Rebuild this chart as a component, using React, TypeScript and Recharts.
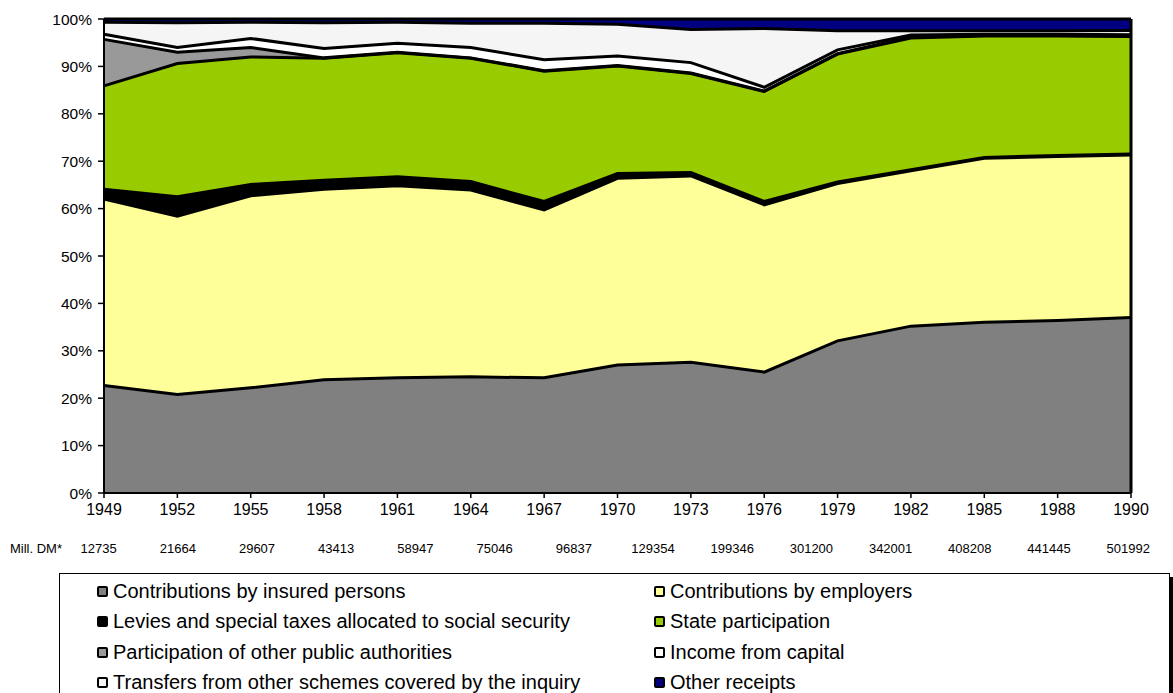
import { AreaChart, Area, XAxis, YAxis, ReferenceLine } from 'recharts';

// Receipts of social security by type, share of total, Germany 1949-1990
const years = ['1949', '1952', '1955', '1958', '1961', '1964', '1967', '1970', '1973', '1976', '1979', '1982', '1985', '1988', '1990'];
const millDM = ['12735', '21664', '29607', '43413', '58947', '75046', '96837', '129354', '199346', '301200', '342001', '408208', '441445', '501992'];

const insured = [22.7, 20.8, 22.2, 23.9, 24.3, 24.5, 24.3, 27.0, 27.6, 25.5, 32.1, 35.2, 36.0, 36.4, 37.0];
const employers = [39.3, 37.6, 40.5, 40.2, 40.5, 39.4, 35.4, 39.4, 39.3, 35.3, 33.2, 32.8, 34.6, 34.6, 34.3];
const levies = [2.1, 4.1, 2.4, 1.9, 1.9, 1.8, 1.8, 1.0, 0.7, 0.7, 0.3, 0.2, 0.2, 0.2, 0.2];
const state = [21.8, 28.1, 26.9, 25.7, 26.2, 26.0, 27.5, 22.7, 20.9, 23.2, 27.0, 27.8, 25.6, 25.2, 24.8];
const otherPublic = [9.8, 2.4, 2.0, 0.1, 0.1, 0.1, 0.1, 0.1, 0.1, 0.1, 0.1, 0.2, 0.1, 0.1, 0.1];
const capital = [1.1, 1.0, 1.9, 2.0, 1.9, 2.2, 2.3, 2.0, 2.2, 0.8, 0.8, 0.4, 0.3, 0.3, 0.3];
const transfers = [2.5, 5.2, 3.4, 5.4, 4.4, 5.1, 7.7, 6.7, 7.0, 12.4, 4.0, 0.9, 0.7, 0.7, 0.9];
const otherReceipts = [0.7, 0.8, 0.7, 0.8, 0.7, 0.9, 0.9, 1.1, 2.2, 2.0, 2.5, 2.5, 2.5, 2.5, 2.4];

const yTicks = [0, 0.1, 0.2, 0.3, 0.4, 0.5, 0.6, 0.7, 0.8, 0.9, 1];

const SERIES = [
  { key: 'insured', name: 'Contributions by insured persons', fill: '#808080', values: insured },
  { key: 'employers', name: 'Contributions by employers', fill: '#FFFF99', values: employers },
  { key: 'levies', name: 'Levies and special taxes allocated to social security', fill: '#000000', values: levies },
  { key: 'state', name: 'State participation', fill: '#99CC00', values: state },
  { key: 'otherPublic', name: 'Participation of other public authorities', fill: '#999999', values: otherPublic },
  { key: 'capital', name: 'Income from capital', fill: '#FFFFFF', values: capital },
  { key: 'transfers', name: 'Transfers from other schemes covered by the inquiry', fill: '#F5F5F5', values: transfers },
  { key: 'other', name: 'Other receipts', fill: '#000080', values: otherReceipts },
];

const data = years.map((year, i) => {
  const row: Record<string, string | number> = { year };
  SERIES.forEach((s) => {
    row[s.key] = s.values[i];
  });
  return row;
});

const FONT = '"Liberation Sans", Arial, sans-serif';
const W = 1173;
const OUTLINE = 3;

function MillRow() {
  return (
    <div style={{ position: 'absolute', left: 0, top: 541, width: W, height: 18, fontSize: 13, fontFamily: FONT }}>
      <span style={{ position: 'absolute', left: 10, top: 0 }}>Mill. DM*</span>
      {millDM.map((v, i) => (
        <span
          key={v}
          style={{ position: 'absolute', left: 98.6 + i * 79.2, top: 0, transform: 'translateX(-50%)' }}
        >
          {v}
        </span>
      ))}
    </div>
  );
}

function LegendBox() {
  return (
    <div
      style={{
        position: 'absolute',
        left: 59,
        top: 573,
        width: 1109,
        height: 140,
        border: '1px solid #000',
        boxShadow: '4px 4px 0 #000',
        background: '#fff',
        fontFamily: FONT,
        fontSize: 20,
      }}
    >
      {SERIES.map((s, i) => {
        const col = i % 2;
        const row = Math.floor(i / 2);
        return (
          <div
            key={s.key}
            style={{
              position: 'absolute',
              left: 37 + col * 557,
              top: 17 + row * 30.6 - 12,
              height: 24,
              display: 'flex',
              alignItems: 'center',
              whiteSpace: 'nowrap',
            }}
          >
            <span
              style={{
                display: 'inline-block',
                width: 7,
                height: 7,
                border: '2px solid #000',
                borderRadius: 2,
                background: s.fill,
                marginRight: 5,
              }}
            />
            <span>{s.name}</span>
          </div>
        );
      })}
    </div>
  );
}

export default function App() {
  return (
    <div style={{ position: 'relative', width: W, height: 693, overflow: 'hidden', background: '#fff' }}>
      <style>{'body{margin:0}'}</style>
      <AreaChart
        width={W}
        height={530}
        data={data}
        stackOffset="expand"
        margin={{ top: 19, right: 42, left: 0, bottom: 7 }}
      >
        <XAxis
          dataKey="year"
          height={30}
          tick={{ fontSize: 16, fill: '#000', fontFamily: FONT }}
          tickSize={5}
          tickMargin={6}
          axisLine={{ stroke: '#000', strokeWidth: 2 }}
          tickLine={{ stroke: '#000', strokeWidth: 1.5 }}
          interval={0}
        />
        <YAxis
          width={104}
          domain={[0, 1]}
          ticks={yTicks}
          tickFormatter={(v: number) => `${Math.round(v * 100)}%`}
          tick={{ fontSize: 15.5, fill: '#000', fontFamily: FONT }}
          tickSize={6}
          tickMargin={6}
          axisLine={{ stroke: '#000', strokeWidth: 2 }}
          tickLine={{ stroke: '#000', strokeWidth: 1.5 }}
        />
        {/* filled bands first, no outline */}
        {SERIES.map((s) => (
          <Area
            key={s.key}
            type="linear"
            dataKey={s.key}
            name={s.name}
            stackId="fill"
            fill={s.fill}
            fillOpacity={1}
            stroke="none"
            isAnimationActive={false}
            dot={false}
            activeDot={false}
          />
        ))}
        {/* same stack again, outlines only, so no band covers another's border */}
        {SERIES.map((s) => (
          <Area
            key={`${s.key}-outline`}
            type="linear"
            dataKey={s.key}
            stackId="outline"
            fill="none"
            stroke="#000"
            strokeWidth={OUTLINE}
            isAnimationActive={false}
            dot={false}
            activeDot={false}
            legendType="none"
          />
        ))}
        <ReferenceLine x="1990" stroke="#000" strokeWidth={3} />
      </AreaChart>
      <MillRow />
      <LegendBox />
    </div>
  );
}
